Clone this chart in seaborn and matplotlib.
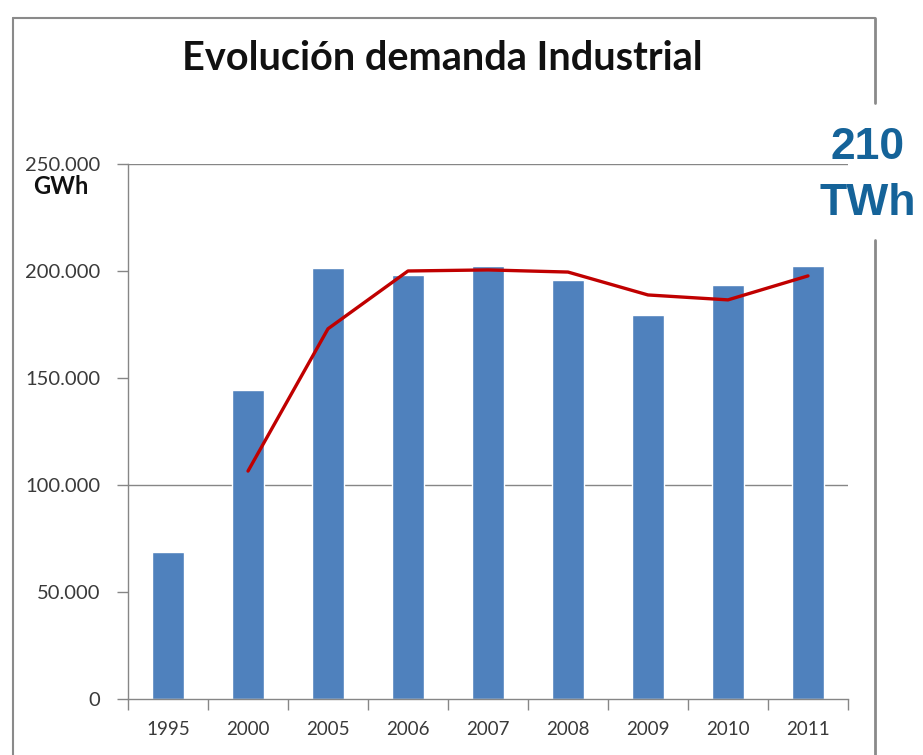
import seaborn as sns
import pandas as pd
import matplotlib.pyplot as plt
from matplotlib.lines import Line2D
from matplotlib.ticker import FuncFormatter, FixedLocator

years = ['1995', '2000', '2005', '2006', '2007', '2008', '2009', '2010', '2011']
demanda = [68800, 144200, 201400, 198100, 202300, 195800, 179500, 193500, 202300]
tendencia_years = ['2000', '2005', '2006', '2007', '2008', '2009', '2010', '2011']
tendencia = [106500, 173000, 200000, 200500, 199500, 188800, 186500, 197700]
yticks = [0, 50000, 100000, 150000, 200000, 250000]

df = pd.DataFrame({'year': years, 'gwh': demanda})
df['pos'] = range(len(years))
dl = pd.DataFrame({'year': tendencia_years, 'gwh': tendencia})
dl['pos'] = [years.index(y) for y in tendencia_years]

sns.set_theme(style='white')
plt.rcParams['font.family'] = ['Lato', 'DejaVu Sans']

fig = plt.figure(figsize=(9.23, 7.55), dpi=100)
ax = fig.add_axes([0.1387, 0.0742, 0.78, 0.7086])

sns.barplot(data=df, x='pos', y='gwh', color='#4F81BD', saturation=1,
            width=0.39, ax=ax, native_scale=True)
sns.lineplot(data=dl, x='pos', y='gwh', color='#C00000', linewidth=2.4, ax=ax)

ax.set_xlim(-0.5, len(years) - 0.5)
ax.set_ylim(0, 250000)
ax.set_xlabel('')
ax.set_ylabel('')

# gridlines visible in the picture
for g in [100000, 250000]:
    ax.axhline(g, color='#868686', lw=1, zorder=0)

ax.set_yticks(yticks)
ax.yaxis.set_major_formatter(FuncFormatter(lambda v, p: f'{int(v):,}'.replace(',', '.')))
ax.set_xticks(range(len(years)))
ax.set_xticklabels(years)
ax.xaxis.set_minor_locator(FixedLocator([i - 0.5 for i in range(len(years) + 1)]))
ax.tick_params(axis='x', which='major', length=0, pad=16, labelsize=13.5, labelcolor='#3a3a3a')
ax.tick_params(axis='x', which='minor', length=8, color='#868686', width=1, direction='out', bottom=True)
ax.tick_params(axis='y', length=8, color='#868686', width=1, direction='out', left=True,
               labelsize=14.5, labelcolor='#3a3a3a', pad=12)

for s in ['top', 'right']:
    ax.spines[s].set_visible(False)
for s in ['left', 'bottom']:
    ax.spines[s].set_color('#868686')
    ax.spines[s].set_linewidth(1)

fig.text(0.479, 0.922, 'Evolución demanda Industrial', ha='center', va='center',
         fontsize=28.5, fontweight='bold', color='#111111')
fig.text(0.066, 0.753, 'GWh', ha='center', va='center', fontsize=17, fontweight='bold',
         color='#111111')
fig.text(0.94, 0.804, '210', ha='center', va='center', fontsize=32, fontweight='bold',
         color='#156399', family=['Liberation Sans', 'DejaVu Sans'])
fig.text(0.94, 0.73, 'TWh', ha='center', va='center', fontsize=32, fontweight='bold',
         color='#156399', family=['Liberation Sans', 'DejaVu Sans'])

# outer frame
fc = '#8a8a8a'
fig.add_artist(Line2D([0.0141, 0.0141], [0, 0.976], color=fc, lw=1.5))
fig.add_artist(Line2D([0.0141, 0.948], [0.976, 0.976], color=fc, lw=1.5))
fig.add_artist(Line2D([0.948, 0.948], [0.976, 0.864], color=fc, lw=2))
fig.add_artist(Line2D([0.948, 0.948], [0.682, 0], color=fc, lw=2))

fig.savefig('out.png', dpi=100)
